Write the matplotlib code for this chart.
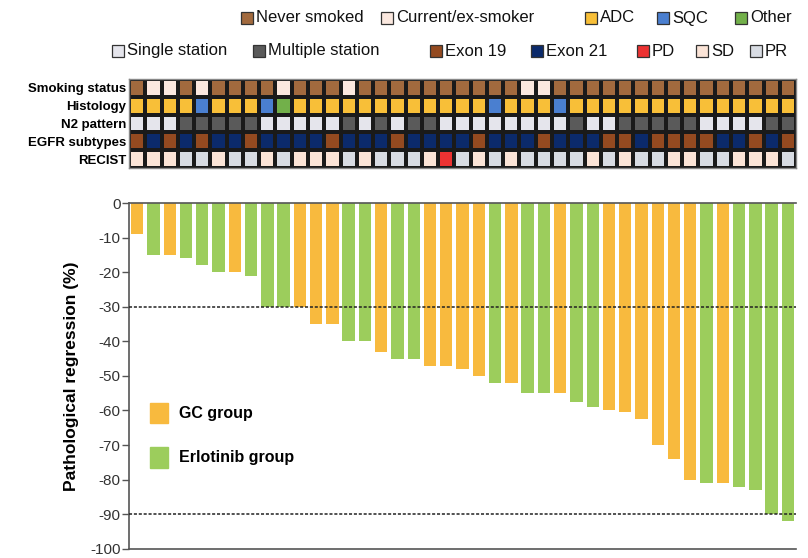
import numpy as np
import matplotlib
matplotlib.use("Agg")
import matplotlib.pyplot as plt
from matplotlib.colors import ListedColormap, BoundaryNorm
from matplotlib.patches import Rectangle

plt.rcParams['font.family'] = ['Liberation Sans', 'DejaVu Sans']

# ---- data ----
regression = [-9, -15, -15, -16, -18, -20, -20, -21, -30, -30, -30, -35, -35, -40,
              -40, -43, -45, -45, -47, -47, -48, -50, -52, -52, -55, -55, -55, -57.5,
              -59, -60, -60.5, -62.5, -70, -74, -80, -81, -81, -82, -83, -90, -92]
group = list("OGOGGGOGGGOOOGGOGGOOOOGOGGOGGOOOOOOGOGGGG")  # O = GC, G = Erlotinib

smoking = list("NCCNCNNNNCNNNCNNNNNNNNNNCC" + "N" * 15)
histology = ["ADC"] * 41
for i in (4, 8, 22, 26):
    histology[i] = "SQC"
histology[9] = "Other"
n2 = list("SSSMMMMMSSSSSMSMSMMSSSSSSSSMSSMMMMMSSSSMM")
egfr = [19, 21, 19, 21, 19, 21, 21, 19, 21, 21, 21, 21, 19, 21, 21, 21, 19, 21, 21, 21,
        21, 19, 21, 21, 21, 19, 21, 21, 21, 19, 19, 21, 19, 19, 19, 19, 21, 21, 19, 21, 19]
recist = ["SD", "SD", "SD", "PR", "PR", "SD", "PR", "PR", "SD", "PR", "SD", "SD", "SD",
          "PR", "SD", "PR", "PR", "PR", "SD", "PD", "PR", "SD", "PR", "SD", "PR", "PR",
          "PR", "PR", "SD", "PR", "SD", "PR", "PR", "SD", "SD", "PR", "PR", "SD", "SD",
          "SD", "PR"]

row_labels = ["Smoking status", "Histology", "N2 pattern", "EGFR subtypes", "RECIST"]

colors = {
    "N": "#a26a3e", "C": "#fbe8df",
    "ADC": "#f8bf38", "SQC": "#4a7fd0", "Other": "#72b04a",
    "S": "#e5e5ec", "M": "#5a5a5a",
    19: "#944a20", 21: "#0b2a6b",
    "PD": "#ec3232", "SD": "#fbe4d7", "PR": "#d8dce3",
}
bar_colors = {"O": "#f8ba3e", "G": "#9ccd5c"}

# ---- figure ----
fig = plt.figure(figsize=(8.08, 5.58), dpi=100)

# heatmap
keys = list(colors.keys())
rows = [smoking, histology, n2, egfr, recist]
codes = np.array([[keys.index(v) for v in r] for r in rows])
cmap = ListedColormap([colors[k] for k in keys])
norm = BoundaryNorm(np.arange(len(keys) + 1) - 0.5, len(keys))

axh = fig.add_axes([0.1597, 0.699, 0.8255, 0.1595])
axh.pcolormesh(np.arange(42) - 0.5, np.arange(6) - 0.5, codes, cmap=cmap, norm=norm,
               edgecolors="#1a1a1a", linewidth=1.6)
axh.set_xlim(-0.5, 40.5)
axh.set_ylim(4.5, -0.5)
axh.set_xticks([])
axh.set_yticks(range(5))
axh.set_yticklabels(row_labels, fontsize=9.5, fontweight="bold")
axh.tick_params(axis="y", length=0, pad=2)
for s in axh.spines.values():
    s.set_color("#888888")
    s.set_linewidth(1)

# waterfall
ax = fig.add_axes([0.1597, 0.0165, 0.8255, 0.6197])
x = np.arange(len(regression))
ax.bar(x, regression, width=0.76, color=[bar_colors[g] for g in group], zorder=2)
ax.axhline(-30, color="#222222", ls=(0, (2, 1.2)), lw=1.1, zorder=3)
ax.axhline(-90, color="#222222", ls=(0, (2, 1.2)), lw=1.1, zorder=3)
ax.set_xlim(-0.5, 40.5)
ax.set_ylim(-100, 0)
ax.set_yticks(np.arange(-100, 1, 10))
ax.set_yticklabels([str(v) for v in range(-100, 1, 10)], fontsize=11, color="#333333")
ax.set_xticks([])
ax.tick_params(axis="y", length=5, width=1, color="#555555", pad=1)
ax.spines["right"].set_visible(False)
for side in ("left", "top", "bottom"):
    ax.spines[side].set_color("#555555")
    ax.spines[side].set_linewidth(1.2)
ax.set_ylabel("Pathological regression (%)", fontsize=12.5, fontweight="bold", labelpad=8)

# group legend inside the bar axes
for txt, key, yy in (("GC group", "O", 0.392), ("Erlotinib group", "G", 0.264)):
    ax.add_patch(Rectangle((0.031, yy - 0.029), 0.028, 0.058, transform=ax.transAxes,
                           color=bar_colors[key], clip_on=False))
    ax.text(0.075, yy, txt, transform=ax.transAxes, fontsize=11.5, fontweight="bold",
            va="center", ha="left")

# top legends
W, H = 808.0, 558.0
legend_items = [
    (241, 18, "N", "Never smoked"), (381, 18, "C", "Current/ex-smoker"),
    (585, 18, "ADC", "ADC"), (657, 18, "SQC", "SQC"), (735, 18, "Other", "Other"),
    (112, 51, "S", "Single station"), (253, 51, "M", "Multiple station"),
    (430, 51, 19, "Exon 19"), (531, 51, 21, "Exon 21"),
    (637, 51, "PD", "PD"), (696, 51, "SD", "SD"), (750, 51, "PR", "PR"),
]
for px, py, key, label in legend_items:
    fig.patches.append(Rectangle((px / W, 1 - (py + 6) / H), 12 / W, 12 / H,
                                 transform=fig.transFigure, facecolor=colors[key],
                                 edgecolor="#333333", linewidth=0.9))
    fig.text((px + 15) / W, 1 - py / H, label, fontsize=12, va="center", ha="left",
             color="#111111")

fig.savefig("out.png", dpi=100)
